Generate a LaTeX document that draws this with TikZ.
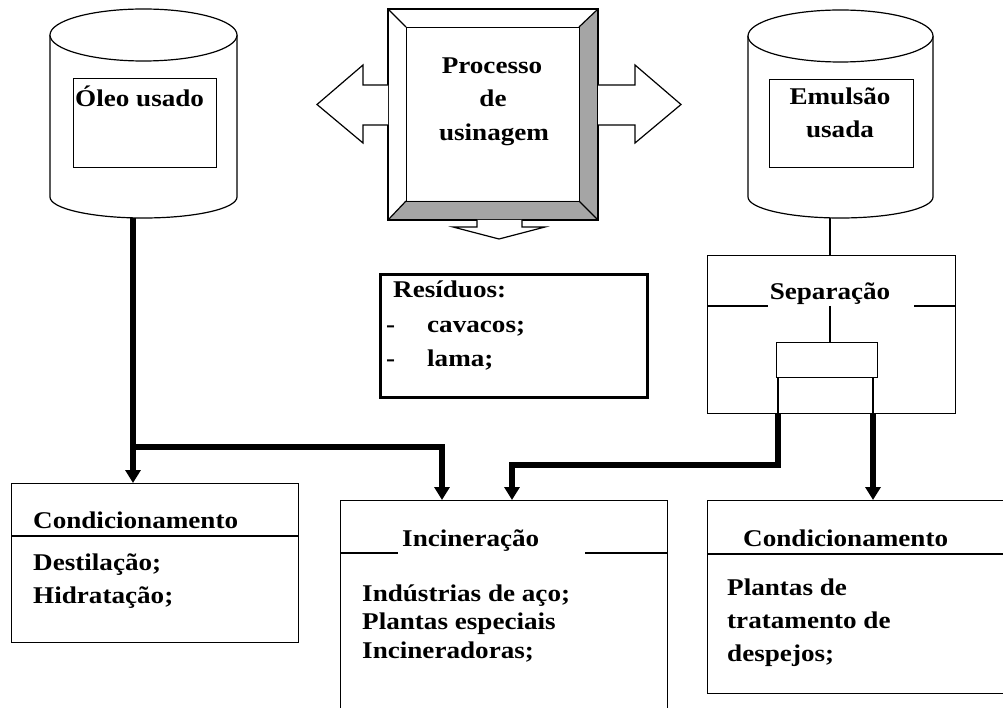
\documentclass[tikz,border=0pt]{standalone}
\usepackage{fontspec}
\setmainfont{Liberation Serif}[FakeStretch=1.13]
\usetikzlibrary{arrows.meta}
\definecolor{bevelgray}{RGB}{165,165,165}

\begin{document}
\begin{tikzpicture}[x=1pt,y=-1pt,
  outline/.style={line width=1.2pt, draw=black},
  box/.style={outline, fill=white, inner sep=0pt, anchor=north west},
  lbl/.style={font=\fontsize{24}{28}\selectfont\bfseries, inner sep=0pt, anchor=base west},
  clbl/.style={lbl, anchor=base},
  flow/.style={line width=5.5pt, -{Triangle[width=15pt,length=13pt]}},
  fatarrow/.style={outline, fill=white, line join=miter}]

\useasboundingbox (0,0) rectangle (1003,708);

% ---------- storage drum: used oil ----------
\fill[white] (50,35) -- (50,197) arc[start angle=180,end angle=0,x radius=93.5,y radius=21] -- (237,35) -- cycle;
\draw[outline] (50,35) -- (50,197) arc[start angle=180,end angle=0,x radius=93.5,y radius=21] -- (237,35);
\draw[outline, fill=white] (143.5,35) ellipse[x radius=93.5, y radius=26];
\node[box, minimum width=143, minimum height=89] (oleo) at (73,78) {};
\node[lbl] (oleot) at (75,107) {Óleo usado};
\coordinate (oleoOut) at (133,218);

% ---------- storage drum: used emulsion ----------
\fill[white] (748,36) -- (748,197) arc[start angle=180,end angle=0,x radius=92.5,y radius=21] -- (933,36) -- cycle;
\draw[outline] (748,36) -- (748,197) arc[start angle=180,end angle=0,x radius=92.5,y radius=21] -- (933,36);
\draw[outline, fill=white] (840.5,36) ellipse[x radius=92.5, y radius=26];
\node[box, minimum width=144, minimum height=88] (emul) at (769,79) {};
\node[clbl] (emult1) at (840,105) {Emulsão};
\node[clbl] (emult2) at (840,138) {usada};
\coordinate (emulOut) at (830,218);

% ---------- machining process (bevelled panel) ----------
\fill[white] (388,9) rectangle (598,220);
\fill[bevelgray] (598,9) -- (598,220) -- (388,220) -- (406,201) -- (579,201) -- (579,27) -- cycle;
\draw[outline] (388,9) rectangle (598,220);
\node[box, fill=none, minimum width=173, minimum height=174] (proc) at (406,27) {};
\draw[outline] (388,9) -- (406,27) (598,9) -- (579,27) (388,220) -- (406,201) (598,220) -- (579,201);
\node[clbl] (proct1) at (492,74) {Processo};
\node[clbl] (proct2) at (493,107) {de};
\node[clbl] (proct3) at (494,141) {usinagem};

% block arrows leaving the process
\draw[fatarrow] (388,85) -- (363,85) -- (363,65) -- (317,104.5) -- (363,143) -- (363,125) -- (388,125);
\draw[fatarrow] (598,85) -- (635,85) -- (635,65) -- (681,104.5) -- (635,143) -- (635,125) -- (598,125);
\draw[fatarrow] (477,220) -- (477,227) -- (453,227) -- (499,239) -- (545,227) -- (522,227) -- (522,220);

% ---------- residues ----------
\node[box, line width=2.6pt, minimum width=267, minimum height=123] (resid) at (379,273) {};
\node[lbl] (residt) at (393,298) {Resíduos:};
\node[lbl] (dash1) at (386,332) {-};
\node[lbl] (item1) at (427,332) {cavacos;};
\node[lbl] (dash2) at (386,366) {-};
\node[lbl] (item2) at (427,366) {lama;};

% ---------- separation unit ----------
\node[box, minimum width=248, minimum height=158] (sep) at (707,255) {};
\draw[outline] (emulOut) -- (emulOut |- sep.north);
\node[clbl] (sept) at (830,300) {Separação};
\draw[outline] (sep.west |- 0,306) -- (768,306) (914,306) -- (sep.east |- 0,306);
\node[box, minimum width=101, minimum height=35] (sepcell) at (776,342) {};
\draw[outline] (830,306) -- (830,342);
\coordinate (sepL) at (778,413);
\coordinate (sepR) at (873,413);
\draw[outline] (sepL |- sepcell.south) -- (sepL) (sepR |- sepcell.south) -- (sepR);

% ---------- destinations ----------
\node[box, minimum width=287, minimum height=159] (condL) at (11,483) {};
\draw[outline] (condL.west |- 0,536) -- (condL.east |- 0,536);
\node[lbl] (condLt) at (33,528) {Condicionamento};
\node[lbl] (condL1) at (33,570) {Destilação;};
\node[lbl] (condL2) at (33,603) {Hidratação;};

\node[box, minimum width=327, minimum height=215] (incin) at (340,500) {};
\draw[outline] (incin.west |- 0,553) -- (398,553) (585,553) -- (incin.east |- 0,553);
\node[lbl] (incint) at (402,546) {Incineração};
\node[lbl] (incin1) at (362,601) {Indústrias de aço;};
\node[lbl] (incin2) at (362,629) {Plantas especiais};
\node[lbl] (incin3) at (362,658) {Incineradoras;};

\node[box, minimum width=310, minimum height=193] (condR) at (707,500) {};
\draw[outline] (condR.west |- 0,554) -- (condR.east |- 0,554);
\node[lbl] (condRt) at (743,546) {Condicionamento};
\node[lbl] (condR1) at (727,595) {Plantas de};
\node[lbl] (condR2) at (727,628) {tratamento de};
\node[lbl] (condR3) at (727,661) {despejos;};

% ---------- flows ----------
\coordinate (jL) at (133,447);
\coordinate (inA) at (442,500);
\coordinate (inB) at (512,500);
\draw[flow] (oleoOut) -- (oleoOut |- condL.north);
\draw[flow] (jL) -| (inA);
\draw[flow] (sepL) -- ++(0,52) -| (inB);
\draw[flow] (sepR) -- (sepR |- condR.north);

\end{tikzpicture}
\end{document}
